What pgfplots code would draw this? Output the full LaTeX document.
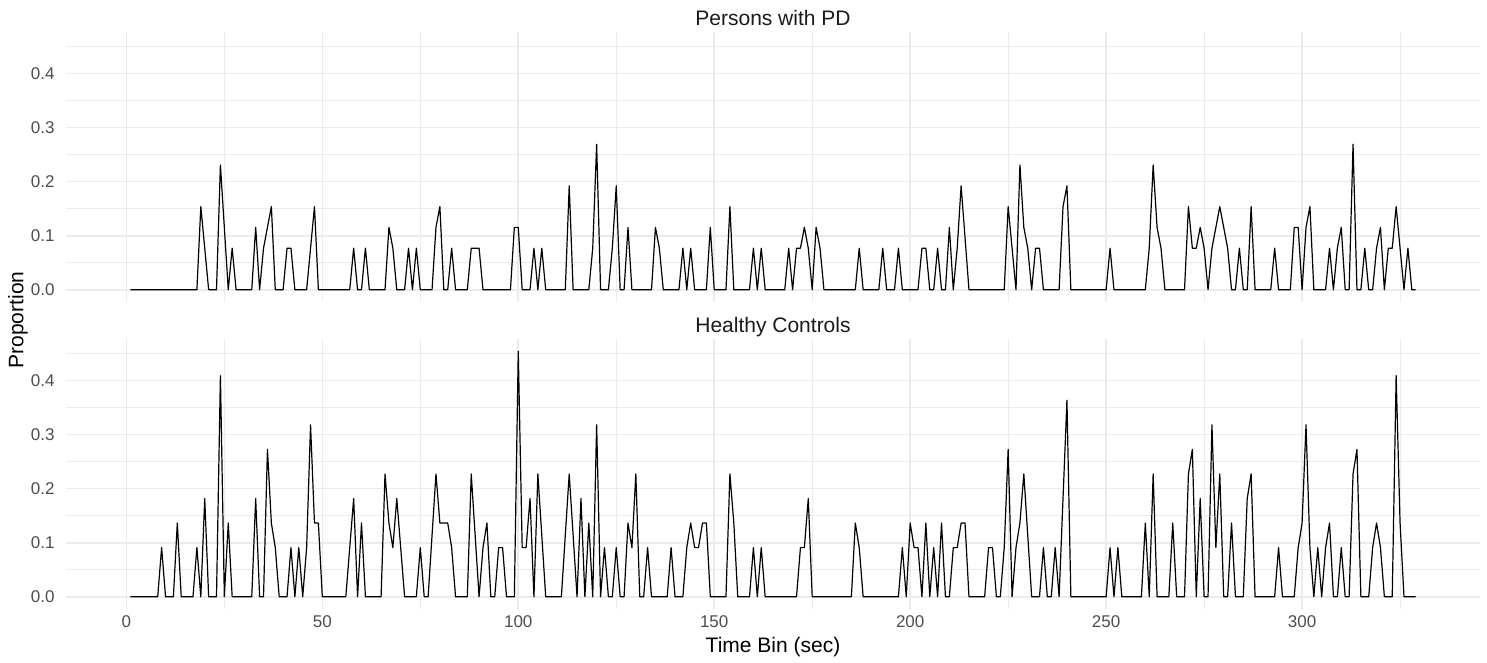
\documentclass[border=0pt]{standalone}
\usepackage{fontspec}
\setmainfont{Liberation Sans}
\usepackage{pgfplots}
\pgfplotsset{compat=1.18}
\definecolor{gridgrey}{HTML}{EBEBEB}
\definecolor{ticktext}{HTML}{4D4D4D}
\definecolor{striptext}{HTML}{1A1A1A}

\pgfplotsset{
  panel/.style={
    scale only axis, width=707pt, height=135pt,
    xmin=-15.4, xmax=345.4, ymin=-0.0227, ymax=0.477,
    xtick={0,50,...,300}, minor xtick={25,75,...,325},
    ytick={0,0.1,0.2,0.3,0.4}, minor ytick={0.05,0.15,0.25,0.35,0.45},
    grid=both,
    major grid style={draw=gridgrey, line width=0.8pt},
    minor grid style={draw=gridgrey, line width=0.45pt},
    axis line style={draw=none}, tick style={draw=none},
    major tick length=0pt, minor tick length=0pt,
    /pgf/number format/assume math mode=true,
    ticklabel style={font=\fontsize{8.5}{10}\selectfont, text=ticktext, inner sep=0pt},
    yticklabel style={xshift=-5.5pt,
      /pgf/number format/fixed, /pgf/number format/fixed zerofill,
      /pgf/number format/precision=1},
    xticklabel style={yshift=-3pt},
    title style={at={(0.5,1)}, anchor=base, yshift=-2.5pt,
      font=\fontsize{10.5}{12.6}\selectfont, text=striptext},
  },
  trace/.style={black, mark=none, line width=0.6pt, line join=round},
}

\begin{document}
\begin{tikzpicture}
\useasboundingbox (0,0) rectangle (743.5pt,-331.5pt);

% persons with PD
\begin{axis}[panel, at={(33pt,-151pt)}, anchor=south west,
  title={Persons with PD}, xticklabels={}]
\addplot[trace] coordinates {
(1,0) (18,0) (19,0.1538) (21,0) (23,0) (24,0.2308) (26,0) (27,0.0769) (28,0)
(32,0) (33,0.1154) (34,0) (35,0.0769) (37,0.1538) (38,0) (40,0) (41,0.0769)
(42,0.0769) (43,0) (46,0) (48,0.1538) (49,0) (57,0) (58,0.0769) (59,0) (60,0)
(61,0.0769) (62,0) (66,0) (67,0.1154) (68,0.0769) (69,0) (71,0) (72,0.0769)
(73,0) (74,0.0769) (75,0) (78,0) (79,0.1154) (80,0.1538) (81,0) (82,0)
(83,0.0769) (84,0) (87,0) (88,0.0769) (90,0.0769) (91,0) (98,0) (99,0.1154)
(100,0.1154) (101,0) (103,0) (104,0.0769) (105,0) (106,0.0769) (107,0)
(112,0) (113,0.1923) (114,0) (118,0) (119,0.0769) (120,0.2692) (121,0) (123,0)
(124,0.0769) (125,0.1923) (126,0) (127,0) (128,0.1154) (129,0) (134,0)
(135,0.1154) (136,0.0769) (137,0) (141,0) (142,0.0769) (143,0) (144,0.0769)
(145,0) (148,0) (149,0.1154) (150,0) (153,0) (154,0.1538) (155,0) (159,0)
(160,0.0769) (161,0) (162,0.0769) (163,0) (168,0) (169,0.0769) (170,0)
(171,0.0769) (172,0.0769) (173,0.1154) (174,0.0769) (175,0) (176,0.1154)
(177,0.0769) (178,0) (186,0) (187,0.0769) (188,0) (192,0) (193,0.0769) (194,0)
(196,0) (197,0.0769) (198,0) (202,0) (203,0.0769) (204,0.0769) (205,0) (206,0)
(207,0.0769) (208,0) (209,0) (210,0.1154) (211,0) (212,0.0769) (213,0.1923)
(215,0) (224,0) (225,0.1538) (227,0) (228,0.2308) (229,0.1154) (230,0.0769)
(231,0) (232,0.0769) (233,0.0769) (234,0) (238,0) (239,0.1538) (240,0.1923)
(241,0) (250,0) (251,0.0769) (252,0) (260,0) (261,0.0769) (262,0.2308)
(263,0.1154) (264,0.0769) (265,0) (270,0) (271,0.1538) (272,0.0769)
(273,0.0769) (274,0.1154) (275,0.0769) (276,0) (277,0.0769) (279,0.1538)
(280,0.1154) (281,0.0769) (282,0) (283,0) (284,0.0769) (285,0) (286,0)
(287,0.1538) (288,0) (292,0) (293,0.0769) (294,0) (297,0) (298,0.1154)
(299,0.1154) (300,0) (301,0.1154) (302,0.1538) (303,0) (306,0) (307,0.0769)
(308,0) (309,0.0769) (310,0.1154) (311,0) (312,0) (313,0.2692) (314,0) (315,0)
(316,0.0769) (317,0) (318,0) (319,0.0769) (320,0.1154) (321,0) (322,0.0769)
(323,0.0769) (324,0.1538) (325,0.0769) (326,0) (327,0.0769) (328,0) (329,0)
};
\end{axis}

% healthy controls
\begin{axis}[panel, at={(33pt,-304.5pt)}, anchor=south west,
  title={Healthy Controls},
  xlabel={Time Bin (sec)},
  xlabel style={at={(axis description cs:0.5,0)}, anchor=base, yshift=-21.5pt,
    font=\fontsize{10.5}{12.6}\selectfont, text=black}]
\addplot[trace] coordinates {
(1,0) (8,0) (9,0.0909) (10,0) (12,0) (13,0.1364) (14,0) (17,0) (18,0.0909)
(19,0) (20,0.1818) (21,0) (23,0) (24,0.4091) (25,0) (26,0.1364) (27,0) (32,0)
(33,0.1818) (34,0) (35,0) (36,0.2727) (37,0.1364) (38,0.0909) (39,0) (41,0)
(42,0.0909) (43,0) (44,0.0909) (45,0) (46,0.0909) (47,0.3182) (48,0.1364)
(49,0.1364) (50,0) (56,0) (58,0.1818) (59,0) (60,0.1364) (61,0) (65,0)
(66,0.2273) (67,0.1364) (68,0.0909) (69,0.1818) (70,0.0909) (71,0) (74,0)
(75,0.0909) (76,0) (77,0) (79,0.2273) (80,0.1364) (82,0.1364) (83,0.0909)
(84,0) (87,0) (88,0.2273) (90,0) (91,0.0909) (92,0.1364) (93,0) (94,0)
(95,0.0909) (96,0.0909) (97,0) (99,0) (100,0.4545) (101,0.0909) (102,0.0909)
(103,0.1818) (104,0) (105,0.2273) (107,0) (111,0) (113,0.2273) (115,0)
(116,0.1818) (117,0) (118,0.1364) (119,0) (120,0.3182) (121,0) (122,0.0909)
(123,0) (124,0) (125,0.0909) (126,0) (127,0) (128,0.1364) (129,0.0909)
(130,0.2273) (131,0) (132,0) (133,0.0909) (134,0) (138,0) (139,0.0909) (140,0)
(142,0) (143,0.0909) (144,0.1364) (145,0.0909) (146,0.0909) (147,0.1364)
(148,0.1364) (149,0) (153,0) (154,0.2273) (155,0.1364) (156,0) (159,0)
(160,0.0909) (161,0) (162,0.0909) (163,0) (171,0) (172,0.0909) (173,0.0909)
(174,0.1818) (175,0) (185,0) (186,0.1364) (187,0.0909) (188,0) (197,0)
(198,0.0909) (199,0) (200,0.1364) (201,0.0909) (202,0.0909) (203,0)
(204,0.1364) (205,0) (206,0.0909) (207,0) (208,0.1364) (209,0) (210,0)
(211,0.0909) (212,0.0909) (213,0.1364) (214,0.1364) (215,0) (219,0)
(220,0.0909) (221,0.0909) (222,0) (223,0) (224,0.0909) (225,0.2727) (226,0)
(227,0.0909) (228,0.1364) (229,0.2273) (231,0) (233,0) (234,0.0909) (235,0)
(236,0) (237,0.0909) (238,0) (240,0.3636) (241,0) (250,0) (251,0.0909) (252,0)
(253,0.0909) (254,0) (259,0) (260,0.1364) (261,0) (262,0.2273) (263,0) (266,0)
(267,0.1364) (268,0) (270,0) (271,0.2273) (272,0.2727) (273,0) (274,0.1818)
(275,0) (276,0) (277,0.3182) (278,0.0909) (279,0.2273) (280,0) (281,0)
(282,0.1364) (283,0) (285,0) (286,0.1818) (287,0.2273) (288,0) (293,0)
(294,0.0909) (295,0) (298,0) (299,0.0909) (300,0.1364) (301,0.3182)
(302,0.0909) (303,0) (304,0.0909) (305,0) (306,0.0909) (307,0.1364) (308,0)
(309,0) (310,0.0909) (311,0) (312,0) (313,0.2273) (314,0.2727) (315,0) (317,0)
(318,0.0909) (319,0.1364) (320,0.0909) (321,0) (323,0) (324,0.4091)
(325,0.1364) (326,0) (329,0)
};
\end{axis}

\node[rotate=90, font=\fontsize{10.5}{12.6}\selectfont] at (9pt,-160pt) {Proportion};
\end{tikzpicture}
\end{document}
